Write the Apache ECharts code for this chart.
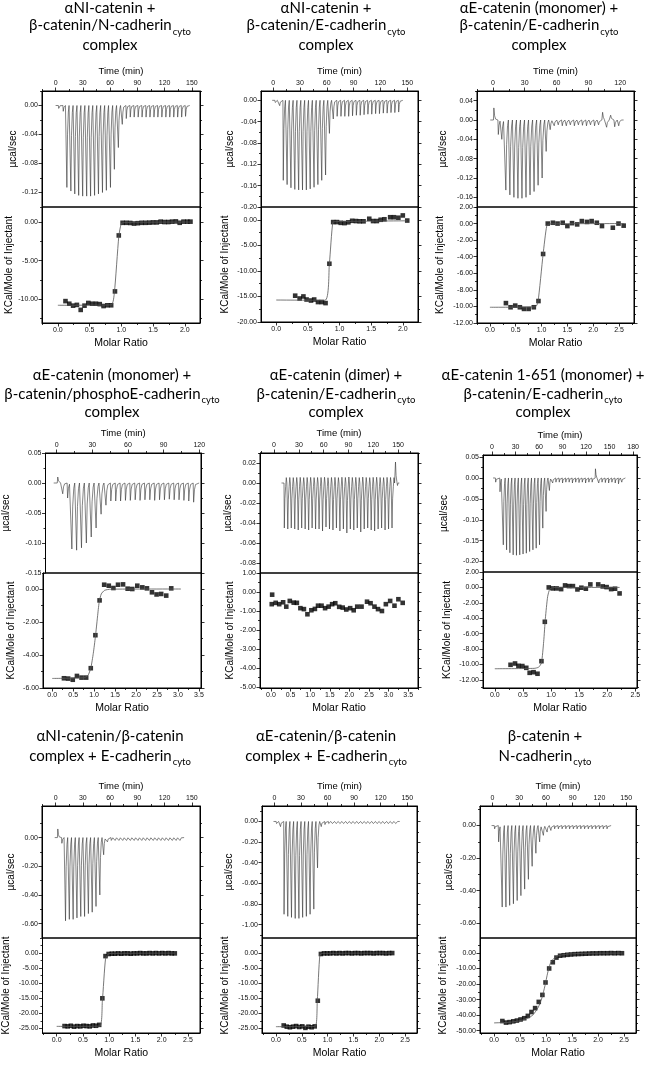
<!DOCTYPE html>
<html>
<head>
<meta charset="utf-8">
<script src="https://cdn.jsdelivr.net/npm/echarts@6/dist/echarts.min.js"></script>
<style>
html, body { margin: 0; padding: 0; background: #fff; }
#chart { width: 652px; height: 1067px; }
</style>
</head>
<body>
<div id="chart"></div>
<script>
// ---- panel 1 : aNI-catenin + b-catenin/N-cadherin complex
const p1Time = [3, 8, 12, 16.4, 20.7, 25, 29.4, 33.8, 38.1, 42.5, 46.8, 51.2, 55.5, 60, 64.3, 68.7, 73, 77.4, 81.8, 86.1, 90.5, 94.8, 99.2, 103.5, 107.9, 112.2, 116.6, 121, 125.3, 129.7, 134, 138.4, 142.7]
const p1Power = [-0.004, -0.008, -0.113, -0.118, -0.122, -0.124, -0.125, -0.125, -0.125, -0.124, -0.122, -0.12, -0.117, -0.113, -0.088, -0.058, -0.026, -0.018, -0.016, -0.016, -0.016, -0.016, -0.016, -0.016, -0.016, -0.016, -0.016, -0.016, -0.016, -0.016, -0.016, -0.016, -0.015]
const p1Ratio = [0.12, 0.18, 0.24, 0.30, 0.36, 0.42, 0.48, 0.54, 0.60, 0.66, 0.72, 0.78, 0.84, 0.90, 0.96, 1.02, 1.08, 1.14, 1.20, 1.26, 1.32, 1.38, 1.44, 1.50, 1.56, 1.62, 1.68, 1.74, 1.80, 1.86, 1.92, 1.98, 2.04, 2.09]
const p1Heat = [-10.26, -10.6, -10.85, -10.75, -11.4, -10.85, -10.5, -10.6, -10.6, -10.65, -10.9, -10.8, -10.8, -9.0, -1.74, -0.1, -0.1, -0.12, -0.2, -0.15, -0.1, -0.1, -0.08, -0.05, -0.05, 0.05, 0.0, 0.0, 0.05, 0.08, -0.1, 0.05, 0.05, 0.05]
const p1FitX = [0, 0.84, 0.89, 0.96, 1.0, 1.05, 2.09]
const p1FitY = [-10.8, -10.75, -9.2, -1.9, -0.2, -0.05, 0]

// ---- panel 2 : aNI-catenin + b-catenin/E-cadherin complex
const p2Time = [2, 7, 11, 15.3, 19.6, 23.9, 28.2, 32.5, 36.8, 41.1, 45.4, 49.7, 54, 58.3, 62.6, 66.9, 71.2, 75.5, 79.8, 84.1, 88.4, 92.7, 97, 101.3, 105.6, 109.9, 114.2, 118.5, 122.8, 127.1, 131.4, 135.7, 140]
const p2Power = [-0.004, -0.01, -0.15, -0.158, -0.164, -0.167, -0.168, -0.168, -0.168, -0.166, -0.163, -0.158, -0.15, -0.14, -0.062, -0.035, -0.03, -0.03, -0.03, -0.03, -0.029, -0.028, -0.028, -0.027, -0.026, -0.026, -0.025, -0.025, -0.024, -0.024, -0.023, -0.023, -0.022]
const p2Ratio = [0.30, 0.37, 0.43, 0.48, 0.55, 0.60, 0.66, 0.72, 0.78, 0.84, 0.90, 0.96, 1.02, 1.08, 1.14, 1.20, 1.26, 1.32, 1.38, 1.47, 1.53, 1.59, 1.65, 1.71, 1.80, 1.86, 1.93, 2.00, 2.07]
const p2Heat = [-14.85, -15.4, -15.0, -15.6, -15.8, -15.6, -16.1, -16.1, -16.3, -8.6, -0.45, -0.45, -0.6, -0.65, -0.5, -0.2, -0.25, -0.3, -0.3, 0.2, -0.25, -0.25, 0.0, 0.1, 0.5, 0.5, 0.4, 0.85, -0.15]
const p2FitX = [0, 0.77, 0.84, 0.895, 0.95, 2.07]
const p2FitY = [-15.7, -15.75, -8.6, -0.5, -0.35, -0.2]

// ---- panel 3 : aE-catenin (monomer) + b-catenin/E-cadherin complex
const p3Time = [0.5, 4.7, 8, 11.8, 15.6, 19.4, 23.2, 27, 30.8, 34.6, 38.4, 42.2, 46, 49.8, 53.6, 57.4, 61.2, 65, 68.8, 72.6, 76.4, 80.2, 84, 87.8, 91.6, 95.4, 99.2, 103, 106.8, 110.6, 114.4, 118.2]
const p3Power = [0.025, -0.03, -0.04, -0.145, -0.155, -0.16, -0.162, -0.162, -0.16, -0.155, -0.148, -0.135, -0.12, -0.065, -0.02, -0.012, -0.01, -0.012, -0.012, -0.01, -0.012, -0.01, -0.011, -0.012, -0.01, -0.012, -0.01, 0.016, -0.015, 0.01, -0.014, -0.012]
const p3Ratio = [0.31, 0.40, 0.49, 0.58, 0.66, 0.75, 0.85, 0.94, 1.03, 1.12, 1.22, 1.31, 1.41, 1.50, 1.59, 1.69, 1.78, 1.88, 1.97, 2.07, 2.17, 2.38, 2.49, 2.59]
const p3Heat = [-9.6, -10.1, -9.9, -10.1, -10.3, -10.3, -10.1, -9.35, -3.67, 0.0, 0.1, 0.0, 0.1, -0.3, 0.05, -0.1, 0.3, 0.2, 0.3, 0.1, -0.3, -0.5, 0.0, -0.25]
const p3FitX = [0, 0.88, 0.93, 1.03, 1.1, 1.15, 2.6]
const p3FitY = [-10.1, -10.05, -9.5, -3.7, -0.3, -0.05, 0]

// ---- panel 4 : aE-catenin (monomer) + b-catenin/phosphoE-cadherin complex
const p4Time = [0.5, 4.7, 8.8, 12.4, 16.4, 20.5, 24.6, 28.7, 32.8, 37, 41.1, 45.2, 49.3, 53.4, 57.5, 61.6, 65.7, 69.8, 73.9, 78, 82.1, 86.2, 90.3, 94.4, 98.5, 102.6, 106.7, 110.8, 114.9]
const p4Power = [0.01, -0.018, -0.025, -0.11, -0.112, -0.108, -0.1, -0.09, -0.075, -0.052, -0.037, -0.03, -0.03, -0.03, -0.029, -0.029, -0.028, -0.029, -0.028, -0.028, -0.029, -0.028, -0.028, -0.027, -0.028, -0.028, -0.029, -0.03, -0.032]
const p4Ratio = [0.28, 0.38, 0.49, 0.59, 0.70, 0.81, 0.92, 1.03, 1.13, 1.24, 1.35, 1.46, 1.57, 1.69, 1.80, 1.91, 2.03, 2.15, 2.26, 2.38, 2.49, 2.60, 2.72, 2.84]
const p4Heat = [-5.41, -5.43, -5.5, -5.27, -5.37, -5.37, -4.8, -2.8, -0.69, 0.26, 0.2, 0.06, 0.26, 0.28, 0.02, 0.0, 0.2, 0.1, 0.04, -0.2, -0.33, -0.3, -0.4, 0.04]
const p4FitX = [0, 0.75, 0.85, 0.92, 0.98, 1.03, 1.08, 1.12, 1.17, 1.25, 1.4, 3.07]
const p4FitY = [-5.42, -5.38, -5.25, -4.8, -3.9, -2.9, -1.7, -0.8, -0.3, -0.08, -0.01, 0]

// ---- panel 5 : aE-catenin (dimer) + b-catenin/E-cadherin complex
const p5Time = [12, 16.2, 20.4, 24.6, 28.8, 33, 37.2, 41.4, 45.6, 49.8, 54, 58.2, 62.4, 66.6, 70.8, 75, 79.2, 83.4, 87.6, 91.8, 96, 100.2, 104.4, 108.6, 112.8, 117, 121.2, 125.4, 129.6, 133.8, 138, 142.2, 146.4]
const p5Power = [-0.045, -0.046, -0.045, -0.046, -0.047, -0.045, -0.046, -0.047, -0.045, -0.046, -0.046, -0.048, -0.044, -0.046, -0.047, -0.045, -0.048, -0.046, -0.05, -0.046, -0.047, -0.045, -0.049, -0.046, -0.045, -0.047, -0.048, -0.046, -0.045, -0.047, -0.046, -0.045, 0.021]
const p5Ratio = [0.02, 0.03, 0.12, 0.21, 0.31, 0.39, 0.48, 0.58, 0.66, 0.75, 0.84, 0.93, 1.03, 1.12, 1.20, 1.29, 1.38, 1.47, 1.56, 1.64, 1.74, 1.83, 1.92, 2.02, 2.11, 2.20, 2.31, 2.45, 2.54, 2.64, 2.73, 2.83, 2.93, 3.04, 3.15, 3.25, 3.36]
const p5Heat = [-0.64, -0.14, -0.57, -0.64, -0.54, -0.77, -0.47, -0.56, -0.57, -0.85, -0.9, -1.17, -0.96, -0.89, -0.72, -0.72, -0.85, -0.77, -0.64, -0.59, -0.78, -0.82, -0.92, -0.85, -0.96, -0.77, -0.77, -0.51, -0.59, -0.77, -0.9, -1.0, -0.64, -0.47, -0.72, -0.38, -0.57]
const p5FitX = []
const p5FitY = []

// ---- panel 6 : aE-catenin 1-651 (monomer) + b-catenin/E-cadherin complex
const p6Time = [4.3, 9.8, 14, 18.2, 22.4, 26.6, 30.8, 35, 39.2, 43.4, 47.6, 51.8, 56, 60.2, 64.4, 68.6, 72.8, 77, 81.2, 85.4, 89.6, 93.8, 98, 102.2, 106.4, 110.6, 114.8, 119, 123.2, 127.4, 131.6, 135.8, 140, 144.2, 148.4, 152.6, 156.8, 161, 165.2]
const p6Power = [-0.01, -0.033, -0.16, -0.172, -0.179, -0.184, -0.185, -0.184, -0.182, -0.18, -0.176, -0.172, -0.168, -0.16, -0.12, -0.08, -0.03, -0.012, -0.01, -0.01, -0.012, -0.01, -0.01, -0.012, -0.01, -0.011, -0.01, -0.012, -0.01, -0.01, 0.022, -0.012, -0.01, -0.011, -0.012, -0.01, -0.012, -0.014, -0.01]
const p6Ratio = [0.28, 0.36, 0.42, 0.49, 0.56, 0.62, 0.69, 0.76, 0.83, 0.89, 0.96, 1.03, 1.10, 1.18, 1.25, 1.32, 1.39, 1.47, 1.54, 1.62, 1.70, 1.84, 1.92, 1.99, 2.07, 2.14, 2.22]
const p6Heat = [-10.04, -9.87, -10.17, -10.2, -10.43, -11.08, -11.0, -11.2, -9.57, -4.46, 0.0, -0.13, -0.13, -0.22, 0.26, 0.17, 0.17, -0.26, -0.04, -0.17, 0.39, 0.39, 0.13, 0.04, -0.22, -0.17, -0.78]
const p6FitX = [0, 0.7, 0.78, 0.83, 0.87, 0.9, 0.94, 0.98, 1.05, 2.22]
const p6FitY = [-10.55, -10.5, -10.35, -9.8, -7.0, -4.0, -1.2, -0.2, -0.02, 0]

// ---- panel 7 : aNI-catenin/b-catenin complex + E-cadherin
const p7Time = [2, 6.5, 10.5, 14.7, 18.9, 23.1, 27.3, 31.5, 35.7, 39.9, 44.1, 48.3, 52.5, 56.7, 60.9, 65.1, 69.3, 73.5, 77.7, 81.9, 86.1, 90.3, 94.5, 98.7, 102.9, 107.1, 111.3, 115.5, 119.7, 123.9, 128.1, 132.3, 136.5]
const p7Power = [0.06, -0.04, -0.58, -0.57, -0.57, -0.56, -0.55, -0.55, -0.53, -0.52, -0.48, -0.4, -0.12, -0.03, -0.02, -0.02, -0.02, -0.02, -0.02, -0.02, -0.02, -0.02, -0.02, -0.02, -0.02, -0.02, -0.02, -0.02, -0.02, -0.02, -0.02, -0.02, -0.02]
const p7Ratio = [0.15, 0.21, 0.27, 0.33, 0.39, 0.45, 0.51, 0.57, 0.63, 0.69, 0.75, 0.81, 0.87, 0.93, 0.99, 1.05, 1.11, 1.17, 1.23, 1.29, 1.35, 1.41, 1.47, 1.53, 1.59, 1.65, 1.71, 1.77, 1.83, 1.89, 1.95, 2.01, 2.07, 2.13, 2.19, 2.25]
const p7Heat = [-24.2, -24.3, -24.1, -24.4, -24.2, -24.3, -24.1, -24.2, -24.3, -24.0, -24.1, -23.8, -15.0, -1.0, -0.3, -0.2, -0.2, -0.1, -0.2, -0.1, -0.1, -0.2, -0.1, -0.1, 0.0, -0.1, -0.1, 0.0, -0.1, 0.0, -0.1, 0.0, -0.1, 0.0, -0.1, -0.1]
const p7FitX = [0, 0.82, 0.87, 0.93, 0.98, 1.05, 2.25]
const p7FitY = [-24.3, -24.2, -16, -2, -0.3, -0.1, 0]

// ---- panel 8 : aE-catenin/b-catenin complex + E-cadherin
const p8Time = [2, 6.5, 10.5, 14.7, 18.9, 23.1, 27.3, 31.5, 35.7, 39.9, 44.1, 48.3, 52.5, 56.7, 60.9, 65.1, 69.3, 73.5, 77.7, 81.9, 86.1, 90.3, 94.5, 98.7, 102.9, 107.1, 111.3, 115.5, 119.7, 123.9, 128.1, 132.3, 136.5]
const p8Power = [-0.02, -0.05, -0.9, -0.92, -0.93, -0.94, -0.94, -0.93, -0.92, -0.9, -0.85, -0.45, -0.05, -0.03, -0.02, -0.02, -0.02, -0.02, -0.02, -0.02, -0.02, -0.02, -0.02, -0.02, -0.02, -0.02, -0.02, -0.02, -0.02, -0.02, -0.02, -0.02, -0.02]
const p8Ratio = [0.15, 0.21, 0.27, 0.33, 0.39, 0.45, 0.51, 0.57, 0.63, 0.69, 0.75, 0.81, 0.87, 0.93, 0.99, 1.05, 1.11, 1.17, 1.23, 1.29, 1.35, 1.41, 1.47, 1.53, 1.59, 1.65, 1.71, 1.77, 1.83, 1.89, 1.95, 2.01, 2.07, 2.13, 2.19, 2.25]
const p8Heat = [-24.0, -24.4, -24.6, -24.4, -24.2, -24.5, -24.3, -24.8, -24.4, -24.6, -24.3, -15.8, -0.3, -0.1, -0.1, -0.1, 0.0, -0.1, 0.0, -0.1, 0.0, 0.0, -0.1, 0.0, 0.0, -0.1, 0.0, 0.0, 0.0, -0.1, 0.0, 0.0, 0.0, -0.1, 0.0, 0.0]
const p8FitX = [0, 0.76, 0.8, 0.85, 0.9, 2.25]
const p8FitY = [-24.4, -24.3, -15.8, -0.6, -0.1, 0]

// ---- panel 9 : b-catenin + N-cadherin
const p9Time = [2, 6.5, 10.5, 14.7, 18.9, 23.1, 27.3, 31.5, 35.7, 39.9, 44.1, 48.3, 52.5, 56.7, 60.9, 65.1, 69.3, 73.5, 77.7, 81.9, 86.1, 90.3, 94.5, 98.7, 102.9, 107.1, 111.3, 115.5, 119.7, 123.9, 128.1]
const p9Power = [-0.02, -0.1, -0.5, -0.5, -0.49, -0.48, -0.46, -0.43, -0.39, -0.33, -0.25, -0.17, -0.1, -0.06, -0.04, -0.03, -0.02, -0.02, -0.02, -0.02, -0.02, -0.02, -0.02, -0.02, -0.02, -0.02, -0.02, -0.02, -0.02, -0.02, -0.02]
const p9Ratio = [0.16, 0.23, 0.30, 0.37, 0.44, 0.51, 0.58, 0.65, 0.72, 0.79, 0.86, 0.93, 0.99, 1.06, 1.13, 1.20, 1.27, 1.34, 1.41, 1.48, 1.55, 1.62, 1.69, 1.76, 1.83, 1.90, 1.97, 2.04, 2.11, 2.18, 2.25, 2.32, 2.39, 2.46]
const p9Heat = [-43.8, -44.8, -44.5, -44.0, -43.5, -42.8, -42.0, -40.5, -38.0, -35.5, -31.5, -27.0, -19.0, -10.0, -6.0, -3.0, -1.8, -1.5, -1.2, -1.0, -0.8, -0.7, -0.6, -0.5, -0.4, -0.3, -0.3, -0.2, -0.2, -0.2, -0.1, -0.2, -0.1, -0.2]
const p9FitX = [0, 0.3, 0.5, 0.65, 0.75, 0.85, 0.92, 0.98, 1.03, 1.08, 1.15, 1.25, 1.4, 1.7, 2.46]
const p9FitY = [-45, -44.6, -43.6, -42, -39.8, -35, -29, -21, -13, -7, -3.5, -1.7, -0.8, -0.3, -0.1]

// tick values of every panel: time, power, molar ratio, heat
const p1Ticks = [[0, 30, 60, 90, 120, 150], [0, -0.04, -0.08, -0.12], [0, 0.5, 1, 1.5, 2], [0, -5, -10]]
const p2Ticks = [[0, 30, 60, 90, 120, 150], [0, -0.04, -0.08, -0.12, -0.16, -0.2], [0, 0.5, 1, 1.5, 2], [0, -5, -10, -15, -20]]
const p3Ticks = [[0, 30, 60, 90, 120], [0.04, 0, -0.04, -0.08, -0.12, -0.16], [0, 0.5, 1, 1.5, 2, 2.5], [2, 0, -2, -4, -6, -8, -10, -12]]
const p4Ticks = [[0, 30, 60, 90, 120], [0.05, 0, -0.05, -0.1, -0.15], [0, 0.5, 1, 1.5, 2, 2.5, 3, 3.5], [0, -2, -4, -6]]
const p5Ticks = [[0, 30, 60, 90, 120, 150], [0.02, 0, -0.02, -0.04, -0.06, -0.08], [0, 0.5, 1, 1.5, 2, 2.5, 3, 3.5], [1, 0, -1, -2, -3, -4, -5]]
const p6Ticks = [[0, 30, 60, 90, 120, 150, 180], [0.05, 0, -0.05, -0.1, -0.15, -0.2], [0, 0.5, 1, 1.5, 2, 2.5], [2, 0, -2, -4, -6, -8, -10, -12]]
const p7Ticks = [[0, 30, 60, 90, 120, 150], [0, -0.2, -0.4, -0.6], [0, 0.5, 1, 1.5, 2, 2.5], [0, -5, -10, -15, -20, -25]]
const p8Ticks = [[0, 30, 60, 90, 120, 150], [0, -0.2, -0.4, -0.6, -0.8, -1.0], [0, 0.5, 1, 1.5, 2, 2.5], [0, -5, -10, -15, -20, -25]]
const p9Ticks = [[0, 30, 60, 90, 120, 150], [0, -0.2, -0.4, -0.6], [0, 0.5, 1, 1.5, 2, 2.5], [0, -10, -20, -30, -40, -50]]

const p1Title = [['\u03B1NI-catenin +'], ['\u03B2-catenin/N-cadherin', 'cyto'], ['complex']]
const p2Title = [['\u03B1NI-catenin +'], ['\u03B2-catenin/E-cadherin', 'cyto'], ['complex']]
const p3Title = [['\u03B1E-catenin (monomer) +'], ['\u03B2-catenin/E-cadherin', 'cyto'], ['complex']]
const p4Title = [['\u03B1E-catenin (monomer) +'], ['\u03B2-catenin/phosphoE-cadherin', 'cyto'], ['complex']]
const p5Title = [['\u03B1E-catenin (dimer) +'], ['\u03B2-catenin/E-cadherin', 'cyto'], ['complex']]
const p6Title = [['\u03B1E-catenin 1-651 (monomer) +'], ['\u03B2-catenin/E-cadherin', 'cyto'], ['complex']]
const p7Title = [['\u03B1NI-catenin/\u03B2-catenin'], ['complex + E-cadherin', 'cyto']]
const p8Title = [['\u03B1E-catenin/\u03B2-catenin'], ['complex + E-cadherin', 'cyto']]
const p9Title = [['\u03B2-catenin +'], ['N-cadherin', 'cyto']]

// panel table: data + axis ranges [time, power, ratio, heat] + frame box [left, right, top, split, bottom]
const panels = [
  {title: p1Title, time: p1Time, power: p1Power, ratio: p1Ratio, heat: p1Heat, fitX: p1FitX, fitY: p1FitY, ticks: p1Ticks,
    range: [[-15, 159], [-0.14, 0.02], [-0.25, 2.24], [-13.1, 1.95]], box: [42, 200, 91, 207, 323], cx: 110, gaps: [24, 27.5]},
  {title: p2Title, time: p2Time, power: p2Power, ratio: p2Ratio, heat: p2Heat, fitX: p2FitX, fitY: p2FitY, ticks: p2Ticks,
    range: [[-13.5, 162], [-0.2, 0.0175], [-0.24, 2.24], [-20, 2.5]], box: [261, 418, 91, 207, 322], cx: 326, gaps: [26, 31]},
  {title: p3Title, time: p3Time, power: p3Power, ratio: p3Ratio, heat: p3Heat, fitX: p3FitX, fitY: p3FitY, ticks: p3Ticks,
    range: [[-15, 133], [-0.18, 0.06], [-0.25, 2.79], [-12, 2]], box: [477, 634, 91, 207, 323], cx: 539, gaps: [28.5, 32]},
  {title: p4Title, time: p4Time, power: p4Power, ratio: p4Ratio, heat: p4Heat, fitX: p4FitX, fitY: p4FitY, ticks: p4Ticks,
    range: [[-9.4, 121.5], [-0.15, 0.05], [-0.22, 3.55], [-6, 0.97]], box: [43, 201, 453, 573, 688], cx: 112, gaps: [34.5, 27]},
  {title: p5Title, time: p5Time, power: p5Power, ratio: p5Ratio, heat: p5Heat, fitX: p5FitX, fitY: p5FitY, ticks: p5Ticks,
    range: [[-17, 174], [-0.09, 0.03], [-0.28, 3.75], [-5.05, 1]], box: [260, 418, 453, 573, 688], cx: 336, gaps: [26.5, 24.5], over: 0.12},
  {title: p6Title, time: p6Time, power: p6Power, ratio: p6Ratio, heat: p6Heat, fitX: p6FitX, fitY: p6FitY, ticks: p6Ticks,
    range: [[-11.5, 185], [-0.225, 0.055], [-0.21, 2.53], [-13.05, 2]], box: [483, 637, 455, 572, 688], cx: 543, gaps: [34, 30.5]},
  {title: p7Title, time: p7Time, power: p7Power, ratio: p7Ratio, heat: p7Heat, fitX: p7FitX, fitY: p7FitY, ticks: p7Ticks,
    range: [[-15, 159], [-0.7, 0.22], [-0.27, 2.73], [-26.5, 5]], box: [42, 200, 806, 938, 1033], cx: 110, gaps: [25.5, 31.5]},
  {title: p8Title, time: p8Time, power: p8Power, ratio: p8Ratio, heat: p8Heat, fitX: p8FitX, fitY: p8FitY, ticks: p8Ticks,
    range: [[-14, 161], [-1.13, 0.15], [-0.27, 2.73], [-26.5, 5]], box: [262, 417, 806, 938, 1033], cx: 326, gaps: [27.5, 31.5]},
  {title: p9Title, time: p9Time, power: p9Power, ratio: p9Ratio, heat: p9Heat, fitX: p9FitX, fitY: p9FitY, ticks: p9Ticks,
    range: [[-14, 161], [-0.69, 0.12], [-0.27, 2.73], [-51.5, 9.6]], box: [480, 636, 806, 938, 1033], cx: 545, gaps: [25.5, 31.5]}
]
const titleRows = [[8, 25.5, 45], [375, 394, 412.5], [736, 756]]

const FONT = '"Liberation Sans", Arial, sans-serif'
const TFONT = '15px Lato, "Noto Sans", sans-serif'
const SFONT = '9.5px Lato, "Noto Sans", sans-serif'

const measure = document.createElement('canvas').getContext('2d')
function textWidth(s, font) {
  measure.font = font
  return measure.measureText(s).width
}

// minor ticks: half way between the major ones
function minorTicks(ticks, range) {
  let step = Math.abs(ticks[1] - ticks[0])
  let lo = Math.min.apply(null, ticks)
  let out = []
  for (let v = lo - step * Math.ceil((lo - range[0]) / step) - step / 2; v <= range[1] + 1e-9; v += step) {
    if (v >= range[0]) out.push(+v.toFixed(6))
  }
  return out
}

// one thermogram line: each injection is a narrow spike from the baseline
function spikes(times, peaks, over) {
  let pts = [[times[0] - 3, 0]]
  times.forEach(function (t, i) {
    let p = peaks[i]
    pts.push([t, 0], [t + 0.4, p], [t + 1.1, p * 0.35], [t + 2, p * 0.08], [t + 2.8, -p * (over || 0)], [t + 3.5, 0])
  })
  pts.push([times[times.length - 1] + 5, 0])
  return pts
}

function axis(gi, pos, range, ticks, o) {
  return {
    type: 'value', gridIndex: gi, position: pos, min: range[0], max: range[1],
    axisLine: {show: o.line !== false, onZero: false, lineStyle: {color: '#000', width: 1}},
    axisTick: {show: true, inside: false, length: o.len || 3.5, customValues: ticks, lineStyle: {color: '#000', width: 0.8}},
    axisLabel: {
      show: o.digits !== undefined, customValues: ticks, margin: 4,
      formatter: function (v) { return o.digits !== undefined ? (+v).toFixed(o.digits) : '' },
      fontFamily: FONT, fontSize: 7, color: '#111'
    },
    splitLine: {show: false},
    name: o.name || '', nameLocation: 'middle', nameGap: o.gap || 0,
    nameTextStyle: {fontFamily: FONT, fontSize: o.size || 10, color: '#000'}
  }
}

let grids = [], xAxes = [], yAxes = [], series = [], graphics = []

panels.forEach(function (p, i) {
  let [L, R, T, S, B] = p.box
  let gTop = grids.length
  grids.push({left: L, top: T, width: R - L, height: S - T, show: true, borderColor: '#000', borderWidth: 1})
  let gBot = grids.length
  grids.push({left: L, top: S, width: R - L, height: B - S, show: true, borderColor: '#000', borderWidth: 1})

  let [tT, pT, rT, hT] = p.ticks
  let [tR, pR, rR, hR] = p.range

  // upper panel: raw heat flow
  let xTop = xAxes.length
  xAxes.push(axis(gTop, 'top', tR, tT, {digits: 0, name: 'Time (min)', gap: 14.5, size: 9.5}))
  xAxes.push(axis(gTop, 'top', tR, minorTicks(tT, tR), {len: 2, line: false}))
  let yTop = yAxes.length
  yAxes.push(axis(gTop, 'left', pR, pT, {digits: 2, name: '\u00B5cal/sec', gap: p.gaps[0]}))
  yAxes.push(axis(gTop, 'left', pR, minorTicks(pT, pR), {len: 2, line: false}))
  yAxes.push(axis(gTop, 'right', pR, pT, {}))
  yAxes.push(axis(gTop, 'right', pR, minorTicks(pT, pR), {len: 2, line: false}))

  // lower panel: integrated heats
  let xBot = xAxes.length
  xAxes.push(axis(gBot, 'bottom', rR, rT, {digits: 1, name: 'Molar Ratio', gap: 15, size: 10.5}))
  xAxes.push(axis(gBot, 'bottom', rR, minorTicks(rT, rR), {len: 2, line: false}))
  let yBot = yAxes.length
  yAxes.push(axis(gBot, 'left', hR, hT, {digits: 2, name: 'KCal/Mole of Injectant', gap: p.gaps[1]}))
  yAxes.push(axis(gBot, 'left', hR, minorTicks(hT, hR), {len: 2, line: false}))
  yAxes.push(axis(gBot, 'right', hR, hT, {}))
  yAxes.push(axis(gBot, 'right', hR, minorTicks(hT, hR), {len: 2, line: false}))

  series.push({
    type: 'line', xAxisIndex: xTop, yAxisIndex: yTop, data: spikes(p.time, p.power, p.over),
    showSymbol: false, symbol: 'none', lineStyle: {color: '#333', width: 0.6}, silent: true
  })
  if (p.fitX.length) {
    series.push({
      type: 'line', xAxisIndex: xBot, yAxisIndex: yBot, smooth: 0.2,
      data: p.fitX.map(function (x, k) { return [x, p.fitY[k]] }),
      showSymbol: false, symbol: 'none', lineStyle: {color: '#555', width: 0.8}, silent: true
    })
  }
  series.push({
    type: 'scatter', xAxisIndex: xBot, yAxisIndex: yBot, symbol: 'rect', symbolSize: 4.6,
    data: p.ratio.map(function (x, k) { return [x, p.heat[k]] }),
    itemStyle: {color: '#000'}, silent: true
  })

  // title, with the "cyto" subscript
  let rows = titleRows[Math.floor(i / 3)]
  p.title.forEach(function (line, k) {
    let wMain = textWidth(line[0], TFONT)
    let wSub = line[1] ? textWidth(line[1], SFONT) + 1 : 0
    let x0 = p.cx - (wMain + wSub) / 2
    graphics.push({type: 'text', x: x0, y: rows[k], silent: true,
      style: {text: line[0], font: TFONT, fill: '#000', textAlign: 'left', textVerticalAlign: 'middle'}})
    if (line[1]) {
      graphics.push({type: 'text', x: x0 + wMain + 1, y: rows[k] + 6, silent: true,
        style: {text: line[1], font: SFONT, fill: '#000', textAlign: 'left', textVerticalAlign: 'middle'}})
    }
  })
})

const myChart = echarts.init(document.getElementById('chart'))
myChart.setOption({
  animation: false,
  backgroundColor: '#fff',
  grid: grids,
  xAxis: xAxes,
  yAxis: yAxes,
  series: series,
  graphic: graphics
})
</script>
</body>
</html>
